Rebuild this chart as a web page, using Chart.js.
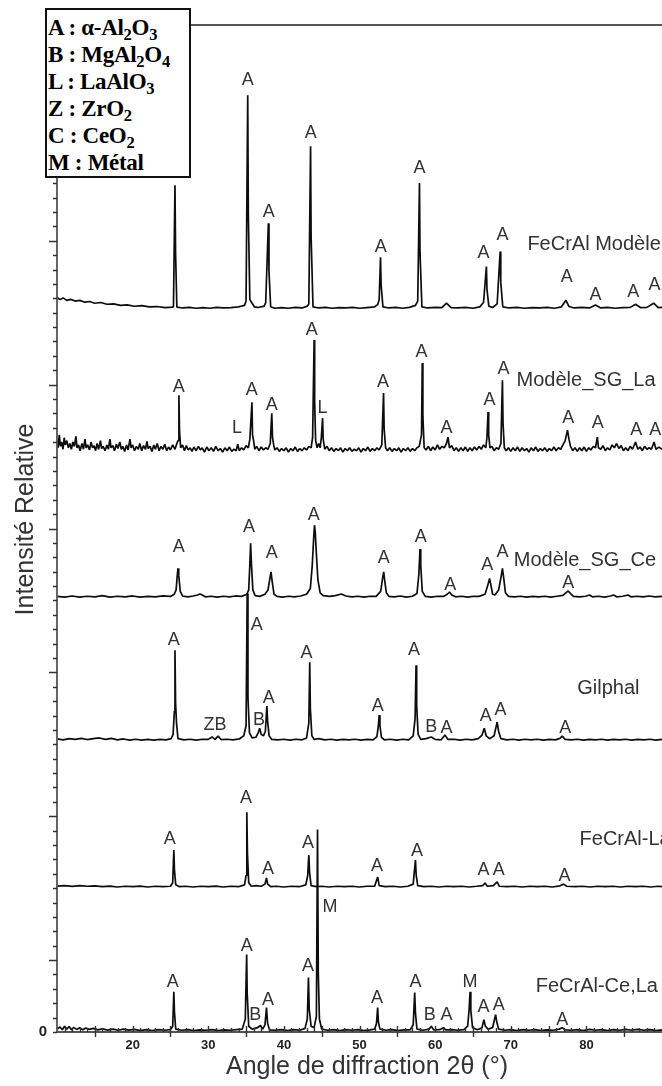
<!DOCTYPE html>
<html>
<head>
<meta charset="utf-8">
<script src="https://cdn.jsdelivr.net/npm/chart.js@4.4.1/dist/chart.umd.min.js"></script>
<style>
  html, body { margin: 0; padding: 0; background: #fff; }
  #wrap { position: relative; width: 662px; height: 1086px; }
  #key {
    position: absolute; left: 45px; top: 8px; width: 146px; height: 170px;
    box-sizing: border-box; border: 2px solid #111; background: #fff;
    padding: 4px 0 0 1px;
    font: bold 23px "Liberation Serif", "Times New Roman", serif;
    line-height: 27px; color: #000; white-space: nowrap; letter-spacing: -0.3px;
  }
  #key sub { font-size: 0.72em; vertical-align: -0.3em; line-height: 0; }
</style>
</head>
<body>
<div id="wrap">
  <canvas id="xrd" width="662" height="1086"></canvas>
  <div id="key">
    <div>A : α-Al<sub>2</sub>O<sub>3</sub></div>
    <div>B : MgAl<sub>2</sub>O<sub>4</sub></div>
    <div>L : LaAlO<sub>3</sub></div>
    <div>Z : ZrO<sub>2</sub></div>
    <div>C : CeO<sub>2</sub></div>
    <div>M : Métal</div>
  </div>
</div>
<script>
// diffractograms: [2theta, intensity above the trace's own baseline]
const modeleFeCrAl = [
  [10,0.75],[10.4,0.6],[10.8,0.72],[11.3,0.55],[11.8,0.62],[12.4,0.5],[13,0.55],[13.7,0.42],[14.3,0.47],[15,0.35],
  [15.8,0.4],[16.6,0.28],[17.5,0.3],[18.4,0.2],[19.3,0.24],[20.2,0.14],[21.2,0.18],[22.2,0.1],[23.2,0.12],[24.3,0.05],
  [25.2,0.08],[25.4,0.1],[25.6,8.55],[25.68,3.8],[25.85,0.08],
  [26.6,0.02],[27.5,0.06],[28.4,0],[29.3,0.05],[30.2,0],[31.1,0.06],[32,0.02],[33,0.05],[34,0.1],[34.8,0.2],
  [35.0,0.5],[35.22,14.8],[35.3,6.5],[35.5,0.6],[35.8,0.35],[36.1,0.1],[36.6,0.05],[37.4,0.15],
  [37.6,0.4],[37.95,5.9],[38.03,2.6],[38.25,0.1],
  [38.8,0],[39.7,0.05],[40.6,0],[41.5,0.06],[42.4,0.02],[43.1,0.15],
  [43.3,0.3],[43.53,11.26],[43.6,5.0],[43.85,0.1],
  [44.6,0.02],[45.5,0.06],[46.4,0],[47.3,0.05],[48.2,0.02],[49.1,0.06],[50,0],[51,0.05],[52,0.1],[52.4,0.25],
  [52.6,0.6],[52.78,3.54],[52.86,1.6],[53.1,0.1],
  [53.9,0.02],[54.8,0.06],[55.7,0],[56.6,0.06],[57.4,0.2],
  [57.7,0.5],[57.93,8.7],[58.0,3.9],[58.25,0.1],
  [59,0.02],[60,0.06],[60.9,0.05],[61.5,0.35],[62.1,0.05],[63,0.02],[64,0.06],[65,0],[65.9,0.1],[66.4,0.4],
  [66.78,2.9],[66.86,1.3],[67.1,0.15],[67.6,0.05],[68.2,0.3],
  [68.6,3.95],[68.68,1.8],[68.95,0.1],
  [69.8,0.02],[70.8,0.06],[71.8,0],[72.8,0.05],[73.8,0.02],[74.8,0.06],[75.8,0],[76.7,0.1],[77.3,0.55],[77.7,0.12],
  [78.4,0.02],[79.4,0.06],[80.4,0.02],[81.2,0.22],[81.9,0.02],[82.8,0.06],[83.8,0],[84.8,0.05],[85.8,0.06],[86.5,0.28],
  [87.2,0.04],[88,0.06],[88.9,0.35],[89.5,0.05],[90,0.06]
];

const modeleSgLa = [
  [10,0.9],[10.15,0.3],[10.3,1.2],[10.45,0.4],[10.6,0.7],[10.8,0.2],[10.95,1.0],[11.1,0.5],[11.3,0.8],[11.5,0.3],
  [11.7,0.6],[11.9,0.2],[12.1,0.7],[12.3,0.4],[12.5,1.1],[12.65,0.3],[12.85,0.5],[13.05,0.1],[13.3,0.6],[13.5,0.2],
  [13.7,0.9],[13.85,0.3],[14.05,0.5],[14.3,0.15],[14.5,0.7],[14.7,0.3],[14.9,0.45],[15.1,0.1],[15.3,0.6],[15.5,0.2],
  [15.75,0.8],[15.9,0.25],[16.1,0.4],[16.35,0.1],[16.6,0.5],[16.8,0.2],[17.0,0.9],[17.15,0.3],[17.4,0.45],[17.6,0.1],
  [17.85,0.55],[18.05,0.25],[18.3,0.7],[18.5,0.2],[18.7,0.4],[18.95,0.05],[19.2,0.5],[19.4,0.15],[19.65,0.9],[19.8,0.3],
  [20.0,0.5],[20.25,0.1],[20.5,0.4],[20.75,0.2],[20.95,0.6],[21.2,0.1],[21.45,0.45],[21.7,0.2],[21.9,0.75],[22.05,0.25],
  [22.3,0.4],[22.55,0.05],[22.8,0.5],[23.0,0.2],[23.25,0.6],[23.5,0.1],[23.75,0.4],[24.0,0.2],[24.25,0.55],[24.5,0.1],
  [24.75,0.35],[25.0,0.15],[25.3,0.5],[25.6,0.2],[25.85,0.6],
  [26.0,0.8],[26.12,3.95],[26.2,1.5],[26.35,0.3],
  [26.6,0.5],[26.85,0.1],[27.1,0.45],[27.35,0.15],[27.6,0.3],[27.85,0.05],[28.1,0.35],[28.4,0.1],[28.7,0.4],[28.95,0.15],
  [29.2,0.3],[29.5,0],[29.8,0.35],[30.1,0.1],[30.4,0.3],[30.7,0.05],[31.0,0.4],[31.3,0.1],[31.6,0.25],[31.9,0],
  [32.2,0.3],[32.5,0.1],[32.8,0.35],[33.1,0.05],[33.4,0.2],[33.7,0.1],[33.9,0.55],[34.1,0.1],[34.4,0.3],[34.7,0.15],
  [35.0,0.45],[35.3,0.3],[35.5,0.9],[35.78,3.47],[35.85,1.2],[36.0,0.8],[36.15,0.2],[36.4,0.4],[36.7,0.1],[37.0,0.35],
  [37.3,0.15],[37.6,0.3],[37.9,0.2],[38.2,0.6],[38.4,2.7],[38.5,1.0],[38.65,0.5],[38.8,0.15],[39.1,0.3],[39.4,0.05],
  [39.7,0.25],[40.0,0.1],[40.3,0.3],[40.6,0],[40.9,0.25],[41.2,0.1],[41.5,0.35],[41.8,0.05],[42.1,0.25],[42.4,0.1],
  [42.7,0.3],[43.0,0.15],[43.3,0.4],[43.6,0.3],[43.8,1.0],[44.0,7.8],[44.07,3.5],[44.2,0.8],[44.4,0.3],[44.6,0.6],
  [44.8,0.3],[44.95,1.0],[45.12,2.36],[45.2,0.9],[45.4,0.2],[45.7,0.4],[46.0,0.1],[46.3,0.3],[46.6,0.05],[46.9,0.25],
  [47.2,0.1],[47.5,0.3],[47.8,0],[48.1,0.25],[48.4,0.1],[48.7,0.3],[49.0,0.05],[49.3,0.2],[49.6,0.1],[49.9,0.3],
  [50.2,0],[50.5,0.25],[50.8,0.1],[51.1,0.35],[51.4,0.05],[51.7,0.25],[52.0,0.1],[52.3,0.3],[52.6,0.15],[52.95,0.5],
  [53.18,4.1],[53.26,1.6],[53.45,0.3],[53.7,0.1],[54.0,0.3],[54.3,0.05],[54.6,0.25],[54.9,0.1],[55.2,0.3],[55.5,0],
  [55.8,0.25],[56.1,0.1],[56.4,0.3],[56.7,0.05],[57.0,0.25],[57.3,0.1],[57.6,0.3],[57.9,0.4],[58.2,1.2],[58.3,6.2],
  [58.38,2.5],[58.55,0.3],[58.8,0.15],[59.1,0.4],[59.4,0.1],[59.7,0.35],[60.0,0.15],[60.3,0.5],[60.6,0.2],[60.9,0.4],
  [61.2,0.3],[61.5,0.6],[61.7,1.04],[61.9,0.3],[62.2,0.45],[62.5,0.1],[62.8,0.3],[63.1,0.05],[63.4,0.3],[63.7,0.1],
  [64.0,0.35],[64.3,0.05],[64.6,0.3],[64.9,0.1],[65.2,0.35],[65.5,0.15],[65.8,0.4],[66.1,0.2],[66.4,0.5],[66.7,0.3],
  [66.85,1.0],[67.0,2.78],[67.08,1.2],[67.25,0.3],[67.5,0.4],[67.8,0.1],[68.1,0.3],[68.4,0.2],[68.7,0.6],[68.9,5.0],
  [68.98,2.0],[69.15,0.3],[69.4,0.1],[69.7,0.3],[70.0,0.05],[70.3,0.3],[70.6,0.1],[70.9,0.35],[71.2,0.05],[71.5,0.3],
  [71.8,0.1],[72.1,0.25],[72.4,0],[72.7,0.3],[73.0,0.1],[73.3,0.35],[73.6,0.05],[73.9,0.25],[74.2,0.1],[74.5,0.3],
  [74.8,0.05],[75.1,0.25],[75.4,0.1],[75.7,0.35],[76.0,0.1],[76.3,0.3],[76.6,0.2],[76.9,0.5],[77.2,0.8],[77.5,1.53],
  [77.7,0.9],[77.9,0.4],[78.2,0.1],[78.5,0.3],[78.8,0.05],[79.1,0.3],[79.4,0.1],[79.7,0.35],[80.0,0.05],[80.3,0.3],
  [80.6,0.15],[80.9,0.4],[81.2,0.3],[81.45,1.04],[81.6,0.3],[81.9,0.2],[82.2,0.45],[82.5,0.1],[82.8,0.3],[83.1,0.15],
  [83.4,0.5],[83.7,0.3],[84.0,0.6],[84.3,0.25],[84.6,0.45],[84.9,0.1],[85.2,0.3],[85.5,0.1],[85.8,0.4],[86.1,0.2],
  [86.5,0.7],[86.8,0.2],[87.1,0.35],[87.4,0.1],[87.7,0.4],[88.0,0.2],[88.3,0.3],[88.6,0.2],[88.95,0.7],[89.2,0.2],
  [89.6,0.35],[90,0.2]
];

const modeleSgCe = [
  [10,0.05],[11,0],[12,0.08],[13,0],[14,0.06],[15,0.02],[16,0.1],[17,0],[18,0.06],[19,0.02],[20,0.08],[21,0],
  [22,0.05],[23,0.02],[24,0.08],[25,0.05],[25.5,0.2],
  [25.75,0.5],[25.92,1.6],[26.0,2.0],[26.1,1.5],[26.3,0.4],[26.6,0.08],
  [27.3,0.02],[28.0,0.08],[28.6,0.15],[28.9,0.22],[29.2,0.15],[29.6,0.02],[30.4,0.06],[31.2,0],[32,0.06],[32.8,0.02],
  [33.6,0.08],[34.4,0.05],[35.1,0.2],
  [35.35,0.5],[35.52,2.5],[35.6,3.75],[35.7,2.4],[35.9,0.5],[36.2,0.1],
  [36.8,0.05],[37.5,0.2],[37.9,0.5],[38.15,1.3],[38.3,1.75],[38.45,1.1],[38.7,0.2],[39.1,0.05],
  [39.8,0],[40.6,0.06],[41.4,0.02],[42.2,0.08],[43.0,0.2],[43.5,0.6],
  [43.75,2.2],[43.95,4.2],[44.05,5.0],[44.15,4.5],[44.3,3.0],[44.5,1.2],[44.8,0.3],[45.2,0.1],
  [46,0.05],[46.8,0.1],[47.6,0.22],[48.2,0.08],[49,0.02],[49.8,0.06],[50.6,0],[51.4,0.06],[52.2,0.05],[52.8,0.4],
  [53.05,1.3],[53.2,1.75],[53.32,1.2],[53.55,0.3],[53.9,0.05],
  [54.6,0.02],[55.4,0.08],[56.2,0],[57.0,0.06],[57.6,0.25],
  [57.85,1.6],[58.0,3.35],[58.1,2.2],[58.3,0.4],[58.7,0.05],
  [59.5,0],[60.3,0.06],[61.1,0.05],[61.6,0.2],[61.9,0.35],[62.2,0.15],[62.7,0.02],[63.5,0.06],[64.3,0],[65.1,0.06],
  [65.8,0.05],[66.6,0.2],[66.95,0.8],[67.2,1.3],[67.35,0.9],[67.6,0.2],[67.9,0.15],[68.4,0.5],
  [68.75,1.5],[68.9,2.0],[69.05,1.4],[69.3,0.3],[69.7,0.05],
  [70.5,0.02],[71.3,0.06],[72.1,0],[72.9,0.05],[73.7,0.02],[74.5,0.06],[75.3,0],[76.1,0.06],[76.9,0.12],[77.4,0.35],
  [77.6,0.42],[77.9,0.25],[78.3,0.05],[79.1,0.02],[79.9,0.06],[80.4,0.15],[80.8,0.02],[81.6,0.06],[82.4,0],[83.2,0.08],
  [83.6,0.15],[84,0.02],[84.8,0.06],[85.5,0.15],[85.9,0.02],[86.7,0.06],[87.5,0.02],[88.3,0.08],[89.1,0.02],[90,0.05]
];

const gilphal = [
  [10,0.08],[10.8,0.02],[11.6,0.1],[12.4,0.05],[13.2,0.12],[14,0.04],[14.8,0.1],[15.6,0.15],[16.4,0.05],[17.2,0.12],
  [18,0.02],[18.8,0.08],[19.6,0],[20.4,0.06],[21.2,0],[22,0.05],[22.8,0],[23.6,0.05],[24.4,0.02],[25.1,0.1],
  [25.35,0.4],[25.52,2.0],[25.6,6.25],[25.68,2.6],[25.8,1.2],[26.0,0.1],
  [26.8,0.02],[27.6,0.06],[28.4,0],[29.2,0.06],[30.0,0.05],[30.5,0.22],[30.9,0.05],[31.3,0.28],[31.7,0.04],[32.5,0.06],
  [33.3,0.02],[34.1,0.08],[34.7,0.3],
  [35.0,1.0],[35.15,10.2],[35.25,3.0],[35.45,0.5],[35.8,0.15],[36.3,0.2],[36.6,0.5],[36.8,0.83],[37.0,0.4],[37.3,0.3],
  [37.55,0.6],[37.75,2.36],[37.85,1.3],[38.05,0.3],[38.4,0.05],
  [39.2,0.02],[40.0,0.06],[40.8,0],[41.6,0.06],[42.4,0.02],[43.0,0.15],
  [43.3,1.2],[43.42,5.42],[43.5,2.2],[43.7,0.3],[44.0,0.05],[44.6,0.1],[45.4,0.02],[46.2,0.06],[47,0],[47.8,0.05],
  [48.6,0.02],[49.4,0.06],[50.2,0],[51.0,0.05],[51.8,0.02],[52.3,0.25],
  [52.5,1.0],[52.6,1.74],[52.7,1.0],[52.9,0.2],[53.3,0.02],
  [54.1,0.06],[54.9,0],[55.7,0.06],[56.5,0.02],[57.1,0.3],
  [57.35,1.5],[57.48,5.2],[57.56,2.4],[57.75,0.4],[58.1,0.05],
  [58.8,0.1],[59.5,0.22],[60.0,0.05],[60.8,0.02],[61.3,0.35],[61.7,0.05],[62.5,0.06],[63.3,0],[64.1,0.06],[64.9,0.02],
  [65.7,0.1],[66.2,0.35],[66.5,0.83],[66.75,0.3],[67.2,0.1],[67.8,0.3],[68.2,1.25],[68.4,0.6],[68.7,0.1],
  [69.5,0.02],[70.3,0.06],[71.1,0],[71.9,0.06],[72.7,0.02],[73.5,0.06],[74.3,0],[75.1,0.05],[75.9,0.02],[76.5,0.12],
  [76.8,0.28],[77.2,0.05],[78,0.02],[78.8,0.06],[79.6,0],[80.4,0.05],[81.2,0.02],[82,0.06],[82.8,0],[83.6,0.05],
  [84.4,0.02],[85.2,0.06],[86,0],[86.8,0.05],[87.6,0.02],[88.4,0.06],[89.2,0],[90,0.05]
];

const fecralLa = [
  [10,0.06],[11,0.1],[12,0.04],[13,0.1],[14,0.05],[15,0.08],[16,0.02],[17,0.06],[18,0],[19,0.05],[20,0.02],[21,0.06],
  [22,0],[23,0.05],[24,0.02],[25.0,0.05],
  [25.3,0.3],[25.45,2.57],[25.53,1.2],[25.7,0.15],[26.2,0.02],
  [27,0.05],[28,0],[29,0.05],[30,0.02],[31,0.06],[32,0],[33,0.05],[34,0.02],[34.8,0.15],
  [35.0,0.8],[35.1,5.2],[35.18,2.4],[35.35,0.3],[35.7,0.05],
  [36.3,0.1],[37.0,0.05],[37.5,0.2],[37.7,0.63],[37.85,0.2],[38.3,0.02],
  [39,0.05],[40,0],[41,0.05],[42,0.02],[42.9,0.15],
  [43.15,0.8],[43.3,2.22],[43.4,1.0],[43.6,0.1],
  [44.3,0.02],[45,0.05],[46,0],[47,0.05],[48,0.02],[49,0.05],[50,0],[51,0.05],[52,0.05],[52.4,0.7],[52.6,0.1],
  [53.4,0.02],[54.4,0.05],[55.4,0],[56.4,0.05],[57.1,0.2],
  [57.4,1.88],[57.5,0.8],[57.7,0.1],
  [58.5,0.02],[59.5,0.05],[60.5,0],[61.5,0.05],[62.5,0.02],[63.5,0.05],[64.5,0],[65.5,0.05],[66.3,0.1],[66.6,0.28],
  [66.9,0.05],[67.7,0.1],[68.2,0.35],[68.5,0.05],[69.5,0.02],[70.5,0.05],[71.5,0],[72.5,0.05],[73.5,0.02],[74.5,0.05],
  [75.5,0],[76.5,0.08],[77.0,0.2],[77.4,0.05],[78.5,0.02],[79.5,0.05],[80.5,0],[81.5,0.05],[82.5,0.02],[83.5,0.05],
  [84.5,0],[85.5,0.05],[86.5,0.02],[87.5,0.05],[88.5,0],[89.5,0.05],[90,0.02]
];

const fecralCeLa = [
  [10,0.1],[10.4,0.25],[10.7,0.05],[11.0,0.3],[11.3,0.1],[11.6,0.28],[11.9,0.05],[12.2,0.22],[12.6,0.08],[13.0,0.2],
  [13.4,0.05],[13.8,0.18],[14.3,0.08],[14.8,0.15],[15.4,0.05],[16,0.12],[16.7,0.03],[17.4,0.1],[18.1,0.02],[18.8,0.1],
  [19.5,0.03],[20.2,0.08],[21,0],[21.8,0.06],[22.6,0],[23.4,0.06],[24.2,0.02],[25.0,0.06],
  [25.3,0.3],[25.45,2.7],[25.53,1.3],[25.7,0.1],
  [26.5,0.02],[27.3,0.06],[28.1,0],[28.9,0.05],[29.7,0.02],[30.5,0.06],[31.3,0],[32.1,0.05],[32.9,0.02],[33.7,0.06],
  [34.5,0.1],[34.9,0.8],[35.08,5.28],[35.15,2.6],[35.35,0.3],[35.8,0.1],[36.5,0.2],[36.9,0.35],[37.2,0.1],[37.5,0.4],
  [37.7,1.6],[37.85,0.5],[38.1,0.05],
  [38.9,0.02],[39.7,0.06],[40.5,0],[41.3,0.06],[42.1,0.02],[42.8,0.15],
  [43.1,0.8],[43.25,3.68],[43.35,1.5],[43.6,0.3],[44.0,0.2],[44.3,1.0],
  [44.45,13.97],[44.55,4.0],[44.7,0.8],[45.0,0.1],
  [45.8,0.02],[46.6,0.06],[47.4,0],[48.2,0.06],[49.0,0.02],[49.8,0.06],[50.6,0],[51.4,0.05],[52.0,0.1],
  [52.25,0.5],[52.4,1.6],[52.5,0.6],[52.7,0.1],
  [53.5,0.02],[54.3,0.06],[55.1,0],[55.9,0.05],[56.7,0.05],[57.1,0.4],
  [57.3,2.64],[57.4,1.2],[57.6,0.1],
  [58.4,0.02],[59.2,0.1],[59.5,0.3],[59.8,0.05],[60.6,0.06],[61.1,0.2],[61.4,0.05],[62.2,0.06],[63.0,0.02],[63.8,0.06],
  [64.3,0.3],[64.5,1.5],[64.62,2.7],[64.72,1.4],[64.95,0.2],
  [65.6,0.05],[66.2,0.2],[66.45,0.76],[66.65,0.3],[67.0,0.1],[67.6,0.2],[68.0,1.1],[68.15,0.6],[68.4,0.1],
  [69.2,0.02],[70.0,0.06],[70.8,0],[71.6,0.06],[72.4,0.02],[73.2,0.06],[74.0,0],[74.8,0.05],[75.6,0.02],[76.4,0.1],
  [76.8,0.2],[77.2,0.05],[78,0.02],[78.8,0.06],[79.6,0],[80.4,0.08],[81.2,0.02],[82,0.06],[82.8,0],[83.6,0.06],
  [84.4,0.02],[85.2,0.08],[86,0.02],[86.8,0.08],[87.6,0.02],[88.4,0.06],[89.2,0],[90,0.05]
];

// phase marks: [2theta, letter, height above baseline]
const modeleFeCrAlMarks = [
  [35.23,'A',15.84],[38.0,'A',6.67],[43.55,'A',12.16],[52.8,'A',4.24],[57.95,'A',9.73],[66.4,'A',3.82],
  [68.9,'A',5.07],[77.4,'A',2.15],[81.2,'A',0.9],[86.2,'A',1.11],[89.0,'A',1.6]
];
const modeleSgLaMarks = [
  [26.1,'A',4.52],[33.8,'L',1.67],[35.76,'A',4.31],[38.4,'A',3.27],[43.7,'A',8.48],[45.1,'L',3.06],[53.1,'A',4.86],
  [58.2,'A',6.95],[61.5,'A',1.67],[67.2,'A',3.61],[69.05,'A',5.77],[77.6,'A',2.36],[81.5,'A',2.0],[86.6,'A',1.53],
  [89.1,'A',1.53]
];
const modeleSgCeMarks = [
  [26.1,'A',3.47],[35.4,'A',4.86],[38.4,'A',3.06],[43.95,'A',5.7],[53.2,'A',2.71],[58.1,'A',4.17],[62.0,'A',0.83],
  [66.9,'A',2.22],[68.9,'A',3.13],[77.6,'A',0.97]
];
const gilphalMarks = [
  [25.45,'A',6.95],[30.9,'ZB',1.04],[36.4,'A',7.99],[36.7,'B',1.39],[38.0,'A',2.92],[43.0,'A',6.05],[52.4,'A',2.36],
  [57.2,'A',6.25],[59.5,'B',0.9],[61.5,'A',0.83],[66.7,'A',1.67],[68.65,'A',2.08],[77.2,'A',0.83]
];
const fecralLaMarks = [
  [24.9,'A',3.34],[35.0,'A',6.18],[37.9,'A',1.25],[43.2,'A',3.06],[52.3,'A',1.46],[57.6,'A',2.5],[66.4,'A',1.18],
  [68.4,'A',1.18],[77.1,'A',0.76]
];
const fecralCeLaMarks = [
  [25.3,'A',3.34],[35.1,'A',5.9],[36.2,'B',1.1],[37.9,'A',2.09],[43.2,'A',4.52],[46.1,'M',8.6],[52.3,'A',2.29],
  [57.4,'A',3.34],[59.3,'B',1.1],[61.5,'A',1.1],[64.6,'M',3.4],[66.4,'A',1.67],[68.4,'A',1.8],[76.8,'A',0.76]
];

// sample names and vertical stacking offsets, top to bottom
const sampleNames = ['FeCrAl Modèle', 'Modèle_SG_La', 'Modèle_SG_Ce', 'Gilphal', 'FeCrAl-La', 'FeCrAl-Ce,La'];
const stackOffsets = [50.31, 40.31, 30.23, 20.29, 10.08, 0.1];
const sampleNamePos = [[72.2, 4.45], [70.77, 5.0], [70.4, 2.57], [78.8, 3.61], [79.1, 3.27], [73.3, 3.06]];

const xTickLabels = [20, 30, 40, 50, 60, 70, 80];
const yTickLabels = [0];

const traces = [modeleFeCrAl, modeleSgLa, modeleSgCe, gilphal, fecralLa, fecralCeLa];
const marks = [modeleFeCrAlMarks, modeleSgLaMarks, modeleSgCeMarks, gilphalMarks, fecralLaMarks, fecralCeLaMarks];

const datasets = traces.map((trace, i) => ({
  label: sampleNames[i],
  data: trace.map(([x, y]) => ({ x: x, y: y + stackOffsets[i] })),
  borderColor: '#0d0d0d',
  borderWidth: 1.7,
  borderJoinStyle: 'bevel',
  pointRadius: 0,
  tension: 0,
  fill: false
}));

// frame, ticks, titles and phase letters
const decorations = {
  id: 'decorations',
  afterDraw(chart) {
    const ctx = chart.ctx;
    const xs = chart.scales.x;
    const ys = chart.scales.y;
    const a = chart.chartArea;
    ctx.save();

    ctx.strokeStyle = '#555';
    ctx.lineWidth = 1.8;
    ctx.beginPath();
    ctx.moveTo(a.left, a.top);
    ctx.lineTo(a.left, a.bottom);
    ctx.lineTo(a.right, a.bottom);
    ctx.moveTo(a.left, a.top);
    ctx.lineTo(a.right, a.top);
    ctx.stroke();

    ctx.lineWidth = 1.4;
    ctx.strokeStyle = '#333';
    ctx.beginPath();
    for (let v = 0; v <= 70; v++) {
      const y = Math.round(ys.getPixelForValue(v)) + 0.5;
      const len = (v % 10 === 5) ? 8 : 4;
      ctx.moveTo(a.left - len, y);
      ctx.lineTo(a.left, y);
    }
    for (let d = 11; d < 90; d++) {
      const x = Math.round(xs.getPixelForValue(d)) + 0.5;
      const len = (d % 5 === 0) ? 6 : 4;
      ctx.moveTo(x, a.bottom);
      ctx.lineTo(x, a.bottom - len);
      if (d % 10 === 5) {
        ctx.moveTo(x, a.bottom);
        ctx.lineTo(x, a.bottom + 5);
      }
    }
    ctx.stroke();

    ctx.fillStyle = '#222';
    ctx.font = 'bold 13px "Liberation Sans", Arial, sans-serif';
    ctx.textAlign = 'center';
    ctx.textBaseline = 'top';
    xTickLabels.forEach(t => ctx.fillText(String(t), xs.getPixelForValue(t), a.bottom + 7));
    ctx.font = 'bold 15px "Liberation Sans", Arial, sans-serif';
    ctx.textAlign = 'right';
    ctx.textBaseline = 'middle';
    yTickLabels.forEach(t => ctx.fillText(String(t), a.left - 10, ys.getPixelForValue(t)));

    ctx.fillStyle = '#333';
    ctx.font = '25px "Liberation Sans", Arial, sans-serif';
    ctx.textAlign = 'center';
    ctx.textBaseline = 'middle';
    ctx.fillText('Angle de diffraction 2θ (°)', 367, 1067);
    ctx.save();
    ctx.translate(26, (a.top + a.bottom) / 2 - 9);
    ctx.rotate(-Math.PI / 2);
    ctx.fillText('Intensité Relative', 0, 0);
    ctx.restore();

    ctx.font = '18px "Liberation Sans", Arial, sans-serif';
    marks.forEach((list, i) => {
      list.forEach(([d, letter, h]) => {
        ctx.fillText(letter, xs.getPixelForValue(d), ys.getPixelForValue(stackOffsets[i] + h));
      });
    });

    ctx.font = '20px "Liberation Sans", Arial, sans-serif';
    ctx.textAlign = 'left';
    sampleNames.forEach((name, i) => {
      const [d, h] = sampleNamePos[i];
      ctx.fillText(name, xs.getPixelForValue(d), ys.getPixelForValue(stackOffsets[i] + h));
    });

    ctx.restore();
  }
};

new Chart(document.getElementById('xrd').getContext('2d'), {
  type: 'line',
  data: { datasets: datasets },
  options: {
    responsive: false,
    animation: false,
    layout: { padding: { left: 57, top: 25, right: 0, bottom: 54 } },
    plugins: { legend: { display: false }, tooltip: { enabled: false } },
    scales: {
      x: { type: 'linear', min: 10, max: 90, display: false },
      y: { type: 'linear', min: 0, max: 70, display: false }
    }
  },
  plugins: [decorations]
});
</script>
</body>
</html>
